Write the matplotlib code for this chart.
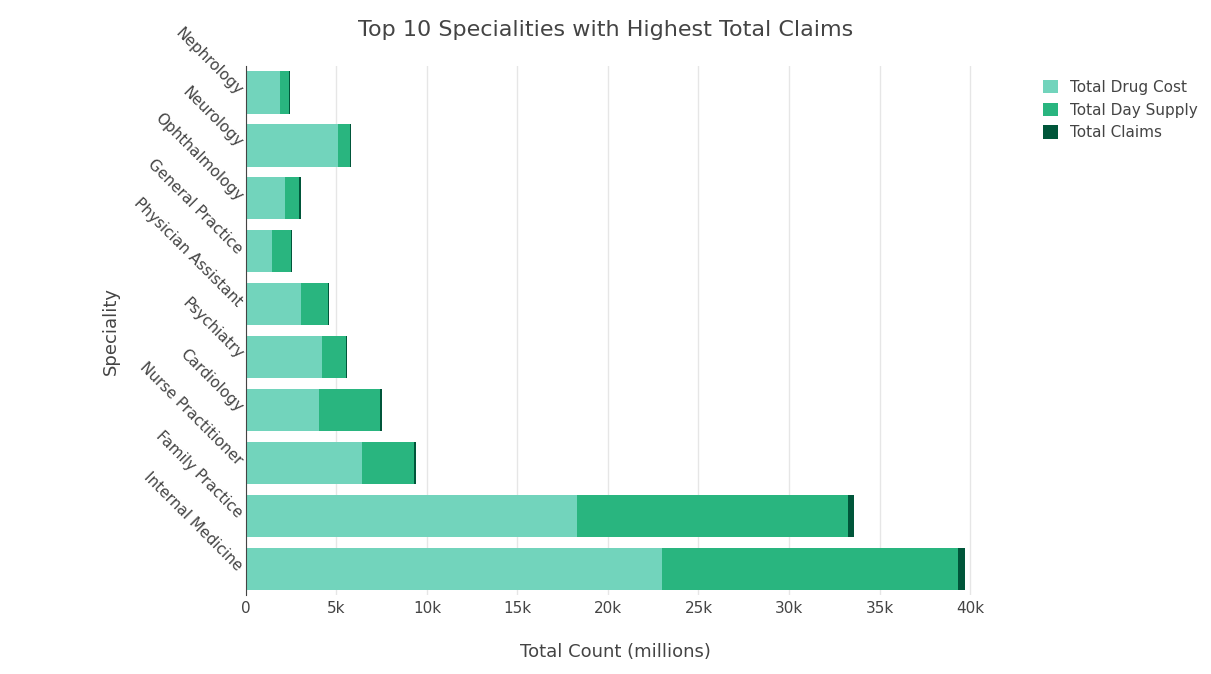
import matplotlib.pyplot as plt
import numpy as np

specialities = ['Nephrology', 'Neurology', 'Ophthalmology', 'General Practice',
                'Physician Assistant', 'Psychiatry', 'Cardiology',
                'Nurse Practitioner', 'Family Practice', 'Internal Medicine']
drug_cost = [1.88, 5.08, 2.15, 1.44, 3.04, 4.20, 4.03, 6.41, 18.29, 22.98]
day_supply = [0.50, 0.67, 0.78, 1.05, 1.49, 1.32, 3.37, 2.87, 14.97, 16.36]
claims = [0.05, 0.05, 0.11, 0.05, 0.06, 0.06, 0.11, 0.11, 0.33, 0.38]

fig = plt.figure(figsize=(12.11, 6.74), dpi=100)
ax = fig.add_axes([0.203, 0.117, 0.610, 0.785])

y = np.arange(len(specialities))
drug = np.array(drug_cost) * 1000
supply = np.array(day_supply) * 1000
clm = np.array(claims) * 1000
h = 0.8
ax.barh(y, drug, height=h, color='#72d4bc', label='Total Drug Cost')
ax.barh(y, supply, left=drug, height=h, color='#29b57f', label='Total Day Supply')
ax.barh(y, clm, left=drug + supply, height=h, color='#00563a', label='Total Claims')

ax.set_ylim(len(specialities) - 0.5, -0.5)
ax.set_xlim(0, 40800)
ax.set_xticks(np.arange(0, 40001, 5000))
ax.set_xticklabels(['0'] + [f'{k}k' for k in range(5, 41, 5)])
ax.set_yticks(y)
ax.set_yticklabels(specialities, rotation=-45, ha='right', va='center',
                   rotation_mode='anchor')
ax.tick_params(length=0, labelsize=11, colors='#444444', pad=4)
ax.grid(axis='x', color='#e6e6e6', linewidth=1)
ax.set_axisbelow(True)
for s in ['top', 'right', 'bottom']:
    ax.spines[s].set_visible(False)
ax.spines['left'].set_color('#444444')

ax.set_xlabel('Total Count (millions)', fontsize=13, color='#444444', labelpad=20)
ax.set_ylabel('Speciality', fontsize=13, color='#444444', labelpad=8)
fig.suptitle('Top 10 Specialities with Highest Total Claims', fontsize=16,
             color='#444444', y=0.97)

ax.legend(loc='upper left', bbox_to_anchor=(1.06, 1.0), frameon=False,
          fontsize=11, handlelength=1.0, handleheight=1.0, labelcolor='#444444')

fig.savefig('out.png', dpi=100)
